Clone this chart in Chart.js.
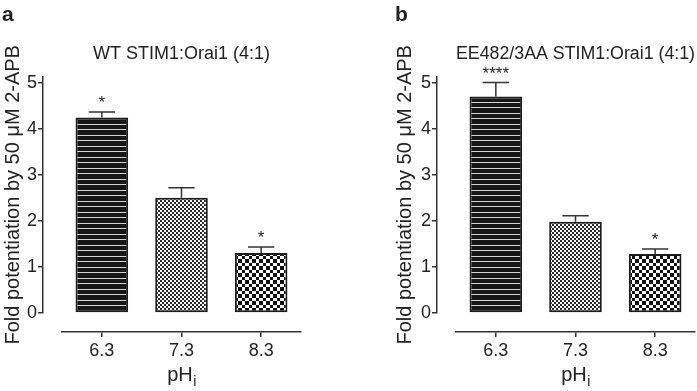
<!DOCTYPE html>
<html><head><meta charset="utf-8">
<script src="https://cdn.jsdelivr.net/npm/chart.js@4.4.1/dist/chart.umd.min.js"></script>
<style>
html,body{margin:0;padding:0;background:#fff;}
#wrap{position:relative;width:697px;height:391px;overflow:hidden;}
canvas{position:absolute;top:0;}
</style></head><body>
<div id="wrap">
<canvas id="ca" width="348" height="391" style="left:0"></canvas>
<canvas id="cb" width="349" height="391" style="left:348px"></canvas>
</div>
<script>
// ---- data ----
const categories = ['6.3', '7.3', '8.3'];
const wtMean = [4.24, 2.50, 1.30];
const wtSem = [0.12, 0.22, 0.13];
const wtSig = ['*', '', '*'];
const eeMean = [4.70, 1.98, 1.28];
const eeSem = [0.30, 0.13, 0.11];
const eeSig = ['****', '', '*'];
const yTicks = [0, 1, 2, 3, 4, 5];
const titleA = 'WT STIM1:Orai1 (4:1)';
const titleB = 'EE482/3AA STIM1:Orai1 (4:1)';
const yTitle = 'Fold potentiation by 50 \u03bcM 2-APB';
const xTitleMain = 'pH';
const xTitleSub = 'i';
const panelLetters = ['a', 'b'];

const FONT = '"Liberation Sans", Arial, Helvetica, sans-serif';
Chart.defaults.font.family = FONT;
Chart.defaults.color = '#222';

function makePattern(w, h, draw) {
  const c = document.createElement('canvas');
  c.width = w; c.height = h;
  const g = c.getContext('2d');
  draw(g);
  return g.createPattern(c, 'repeat');
}
const stripes = makePattern(4, 11, g => {
  g.fillStyle = '#161616'; g.fillRect(0, 0, 4, 11);
  g.fillStyle = '#d4d4d4'; g.fillRect(0, 3, 4, 1); g.fillRect(0, 8, 4, 1);
});
const fineChk = makePattern(4, 4, g => {
  g.fillStyle = '#ffffff'; g.fillRect(0, 0, 4, 4);
  g.fillStyle = '#2a2a2a'; g.fillRect(0, 0, 2, 2); g.fillRect(2, 2, 2, 2);
});
const coarseChk = makePattern(14, 14, g => {
  g.fillStyle = '#ffffff'; g.fillRect(0, 0, 14, 14);
  g.fillStyle = '#111111';
  const b = [0, 4, 7, 11, 14];
  for (let i = 0; i < 4; i++) for (let j = 0; j < 4; j++) {
    if ((i + j) % 2 === 0) g.fillRect(b[i], b[j], b[i + 1] - b[i], b[j + 1] - b[j]);
  }
});

const offsetAxes = {
  id: 'offsetAxes',
  afterLayout(chart) {
    const off = 19;
    const y = chart.scales.y, x = chart.scales.x;
    y.left -= off; y.right -= off;
    x.top += off; x.bottom += off;
  }
};

const errBars = {
  id: 'errBars',
  afterDatasetsDraw(chart, args, opts) {
    const meta = chart.getDatasetMeta(0);
    const ys = chart.scales.y;
    const ctx = chart.ctx;
    meta.data.forEach((bar, i) => {
      const top = ys.getPixelForValue(opts.means[i] + opts.errs[i]);
      const half = bar.width / 4;
      ctx.save();
      ctx.strokeStyle = '#333'; ctx.lineWidth = 1.5;
      ctx.beginPath();
      ctx.moveTo(bar.x, bar.y); ctx.lineTo(bar.x, top);
      ctx.moveTo(bar.x - half, top); ctx.lineTo(bar.x + half, top);
      ctx.stroke();
      if (opts.sig[i]) {
        ctx.fillStyle = '#222';
        ctx.font = '17px ' + FONT;
        ctx.textAlign = 'center'; ctx.textBaseline = 'alphabetic';
        ctx.fillText(opts.sig[i], bar.x, top - 4);
      }
      ctx.restore();
    });
  }
};

const extraText = {
  id: 'extraText',
  afterDraw(chart, args, opts) {
    const ctx = chart.ctx;
    const xs = chart.scales.x;
    ctx.save();
    ctx.fillStyle = '#222';
    // panel letter
    ctx.font = 'bold 21px ' + FONT;
    ctx.textAlign = 'left'; ctx.textBaseline = 'alphabetic';
    ctx.fillText(opts.letter, opts.letterX, 21);
    // x axis title with subscript
    const cx = (xs.left + xs.right) / 2;
    ctx.font = '20px ' + FONT;
    const wMain = ctx.measureText(xTitleMain).width;
    ctx.font = '14px ' + FONT;
    const wSub = ctx.measureText(xTitleSub).width;
    const x0 = cx - (wMain + wSub) / 2;
    const base = xs.top + 49;
    ctx.font = '20px ' + FONT;
    ctx.fillText(xTitleMain, x0, base);
    ctx.font = '14px ' + FONT;
    ctx.fillText(xTitleSub, x0 + wMain + 0.5, base + 5);
    ctx.restore();
  }
};

function makeChart(id, means, errs, sig, title, padLeft, padRight, yWidth, letter, letterX) {
  return new Chart(document.getElementById(id), {
    type: 'bar',
    data: {
      labels: categories,
      datasets: [{
        data: means,
        backgroundColor: [stripes, fineChk, coarseChk],
        borderColor: '#1c1c1c',
        borderWidth: 2,
        borderSkipped: false,
        barPercentage: 0.66,
        categoryPercentage: 1
      }]
    },
    options: {
      responsive: false,
      animation: false,
      layout: { padding: { left: padLeft, right: padRight, top: 43, bottom: 0 } },
      plugins: {
        legend: { display: false },
        tooltip: { enabled: false },
        title: {
          display: true, text: title, fullSize: false,
          font: { size: 18, weight: 'normal', family: FONT }, color: '#222',
          padding: { top: 0, bottom: 12 }
        },
        errBars: { means: means, errs: errs, sig: sig },
        extraText: { letter: letter, letterX: letterX }
      },
      scales: {
        x: {
          type: 'category',
          offset: true,
          afterFit(s) { s.height = 78; },
          ticks: { font: { size: 18 }, color: '#222', padding: 3, maxRotation: 0 },
          grid: { display: true, offset: false, drawOnChartArea: false, drawTicks: true, tickLength: 5, color: '#333', lineWidth: 1.5 },
          border: { display: true, color: '#333', width: 1.5 }
        },
        y: {
          min: 0, max: 5.13,
          afterFit(s) { s.width = yWidth; },
          afterBuildTicks(s) { s.ticks = yTicks.map(v => ({ value: v })); },
          ticks: { font: { size: 18 }, color: '#222', padding: 1 },
          grid: { display: true, drawOnChartArea: false, drawTicks: true, tickLength: 5, color: '#333', lineWidth: 1.5 },
          border: { display: true, color: '#333', width: 1.5 },
          title: { display: true, text: yTitle, font: { size: 20 }, color: '#222', padding: { top: 0, bottom: 0 } }
        }
      }
    },
    plugins: [offsetAxes, errBars, extraText]
  });
}

makeChart('ca', wtMean, wtSem, wtSig, titleA, 20, 47, 42, panelLetters[0], 2);
makeChart('cb', eeMean, eeSem, eeSig, titleB, 64, 2, 44, panelLetters[1], 47);
</script>
</body></html>
